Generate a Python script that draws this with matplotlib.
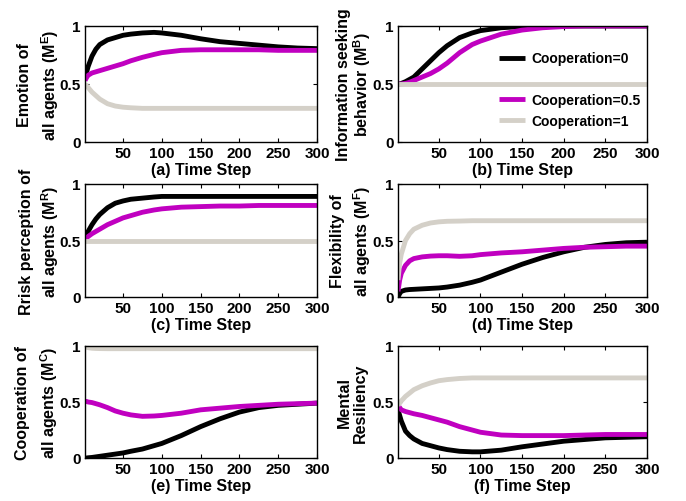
import matplotlib
matplotlib.use('Agg')
from matplotlib import pyplot as plt

plt.rcParams['font.family'] = 'Liberation Sans'
plt.rcParams['font.weight'] = 'bold'
plt.rcParams['mathtext.fontset'] = 'custom'
plt.rcParams['mathtext.bf'] = 'Liberation Sans:bold'
plt.rcParams['mathtext.rm'] = 'Liberation Sans:bold'

# time steps at which values were read
t = [1, 3, 5, 10, 15, 20, 30, 40, 50, 60, 75, 90, 100, 125, 150, 175, 200, 225, 250, 275, 300]

# (a) emotion
emo_c0 = [0.55, 0.60, 0.65, 0.74, 0.80, 0.84, 0.88, 0.90, 0.92, 0.93, 0.94, 0.945, 0.94, 0.92, 0.89, 0.865, 0.85, 0.835, 0.82, 0.81, 0.805]
emo_c05 = [0.53, 0.555, 0.575, 0.595, 0.605, 0.615, 0.635, 0.655, 0.675, 0.70, 0.73, 0.755, 0.77, 0.79, 0.795, 0.795, 0.795, 0.795, 0.79, 0.79, 0.79]
emo_c1 = [0.5, 0.485, 0.47, 0.43, 0.40, 0.37, 0.33, 0.31, 0.30, 0.295, 0.29, 0.29, 0.29, 0.29, 0.29, 0.29, 0.29, 0.29, 0.29, 0.29, 0.29]

# (b) information seeking
info_c0 = [0.5, 0.5, 0.505, 0.52, 0.54, 0.56, 0.63, 0.70, 0.77, 0.83, 0.90, 0.94, 0.96, 0.985, 0.995, 1, 1, 1, 1, 1, 1]
info_c05 = [0.5, 0.5, 0.5, 0.505, 0.515, 0.53, 0.56, 0.59, 0.63, 0.68, 0.77, 0.84, 0.87, 0.93, 0.965, 0.985, 0.995, 1, 1, 1, 1]
info_c1 = [0.5] * 21

# (c) risk perception
risk_c0 = [0.52, 0.55, 0.58, 0.64, 0.69, 0.73, 0.79, 0.83, 0.85, 0.865, 0.875, 0.885, 0.89, 0.89, 0.89, 0.89, 0.89, 0.89, 0.89, 0.89, 0.89]
risk_c05 = [0.52, 0.525, 0.535, 0.56, 0.58, 0.60, 0.64, 0.67, 0.70, 0.72, 0.75, 0.77, 0.78, 0.795, 0.80, 0.805, 0.805, 0.81, 0.81, 0.81, 0.81]
risk_c1 = [0.5] * 21

# (d) flexibility
flex_c0 = [0.0, 0.03, 0.05, 0.062, 0.066, 0.068, 0.072, 0.076, 0.08, 0.088, 0.105, 0.13, 0.15, 0.22, 0.29, 0.35, 0.40, 0.44, 0.465, 0.48, 0.485]
flex_c05 = [0.05, 0.15, 0.21, 0.28, 0.32, 0.34, 0.355, 0.362, 0.365, 0.365, 0.36, 0.365, 0.375, 0.39, 0.40, 0.415, 0.43, 0.44, 0.445, 0.45, 0.45]
flex_c1 = [0.15, 0.30, 0.38, 0.50, 0.56, 0.60, 0.635, 0.655, 0.665, 0.67, 0.672, 0.675, 0.675, 0.675, 0.675, 0.675, 0.675, 0.675, 0.675, 0.675, 0.675]

# (e) cooperation
coop_c0 = [0.0, 0.0, 0.002, 0.005, 0.01, 0.015, 0.025, 0.035, 0.045, 0.06, 0.08, 0.11, 0.13, 0.20, 0.28, 0.35, 0.41, 0.45, 0.47, 0.48, 0.49]
coop_c05 = [0.505, 0.505, 0.50, 0.495, 0.485, 0.475, 0.45, 0.42, 0.40, 0.385, 0.372, 0.375, 0.38, 0.40, 0.43, 0.445, 0.46, 0.47, 0.48, 0.485, 0.49]
coop_c1 = [1.0, 0.99, 0.985, 0.98, 0.978, 0.977, 0.976, 0.976, 0.976, 0.976, 0.976, 0.976, 0.976, 0.976, 0.976, 0.976, 0.976, 0.976, 0.976, 0.976, 0.976]

# (f) mental resiliency
res_c0 = [0.43, 0.38, 0.33, 0.24, 0.20, 0.17, 0.13, 0.11, 0.09, 0.075, 0.06, 0.055, 0.055, 0.07, 0.10, 0.125, 0.15, 0.165, 0.18, 0.185, 0.19]
res_c05 = [0.47, 0.45, 0.43, 0.415, 0.405, 0.395, 0.38, 0.36, 0.34, 0.32, 0.28, 0.25, 0.23, 0.205, 0.20, 0.20, 0.20, 0.205, 0.21, 0.21, 0.21]
res_c1 = [0.47, 0.49, 0.51, 0.55, 0.58, 0.61, 0.645, 0.67, 0.69, 0.70, 0.71, 0.715, 0.715, 0.715, 0.715, 0.715, 0.715, 0.715, 0.715, 0.715, 0.715]

labels = ['Cooperation=0', 'Cooperation=0.5', 'Cooperation=1']
colors = ['black', '#c000c0', '#d4d0c8']

# data, y label, x label, label line spacing, label pad
panels = [
    (emo_c0, emo_c05, emo_c1, 'Emotion of\nall agents (M$^{\\mathbf{E}}$)', '(a) Time Step', 1.4, -0.8),
    (info_c0, info_c05, info_c1, 'Information seeking\nbehavior (M$^{\\mathbf{B}}$)', '(b) Time Step', 1.0, 0),
    (risk_c0, risk_c05, risk_c1, 'Rrisk perception of\nall agents (M$^{\\mathbf{R}}$)', '(c) Time Step', 1.35, -1.2),
    (flex_c0, flex_c05, flex_c1, 'Flexibility of\nall agents (M$^{\\mathbf{F}}$)', '(d) Time Step', 1.4, -0.5),
    (coop_c0, coop_c05, coop_c1, 'Cooperation of\nall agents (M$^{\\mathbf{C}}$)', '(e) Time Step', 1.5, 0),
    (res_c0, res_c05, res_c1, 'Mental\nResiliency', '(f) Time Step', 1.05, 3.5),
]

W, H = 686, 502
cols = [(85, 317), (398, 647)]
rows = [(27, 143), (185, 298), (347, 459)]

fig = plt.figure(figsize=(6.86, 5.02), dpi=100)
axes = []
for i, (c0, c05, c1, ylab, xlab, lsp, pad) in enumerate(panels):
    x0, x1 = cols[i % 2]
    y0, y1 = rows[i // 2]
    ax = fig.add_axes([x0 / W, (H - y1) / H, (x1 - x0) / W, (y1 - y0) / H])
    for ys, lab, col in zip([c0, c05, c1], labels, colors):
        ax.plot(t, ys, color=col, lw=3.5, label=lab, solid_capstyle='butt')
    ax.set_xlim(1, 300)
    ax.set_ylim(0, 1)
    ax.set_xticks([50, 100, 150, 200, 250, 300])
    ax.set_yticks([0, 0.5, 1])
    ax.set_yticklabels(['0', '0.5', '1'])
    ax.tick_params(direction='in', length=3, top=True, right=True, labelsize=11, pad=3)
    ax.set_xlabel(xlab, fontsize=11.5, fontweight='bold', labelpad=1)
    ax.set_ylabel(ylab, fontsize=11.5, fontweight='bold', labelpad=pad, linespacing=lsp)
    for s in ax.spines.values():
        s.set_linewidth(1.0)
    axes.append(ax)

# legend in panel (b), with an empty row after the first entry
hs = axes[1].get_lines()
blank, = axes[1].plot([], [], color='none')
axes[1].legend([hs[0], blank, hs[1], hs[2]], [labels[0], ' ', labels[1], labels[2]],
               loc='center right', bbox_to_anchor=(1.025, 0.45), frameon=False,
               fontsize=10, handlelength=1.9, labelspacing=0.5, handletextpad=0.45)

plt.savefig('out.png', dpi=100)
